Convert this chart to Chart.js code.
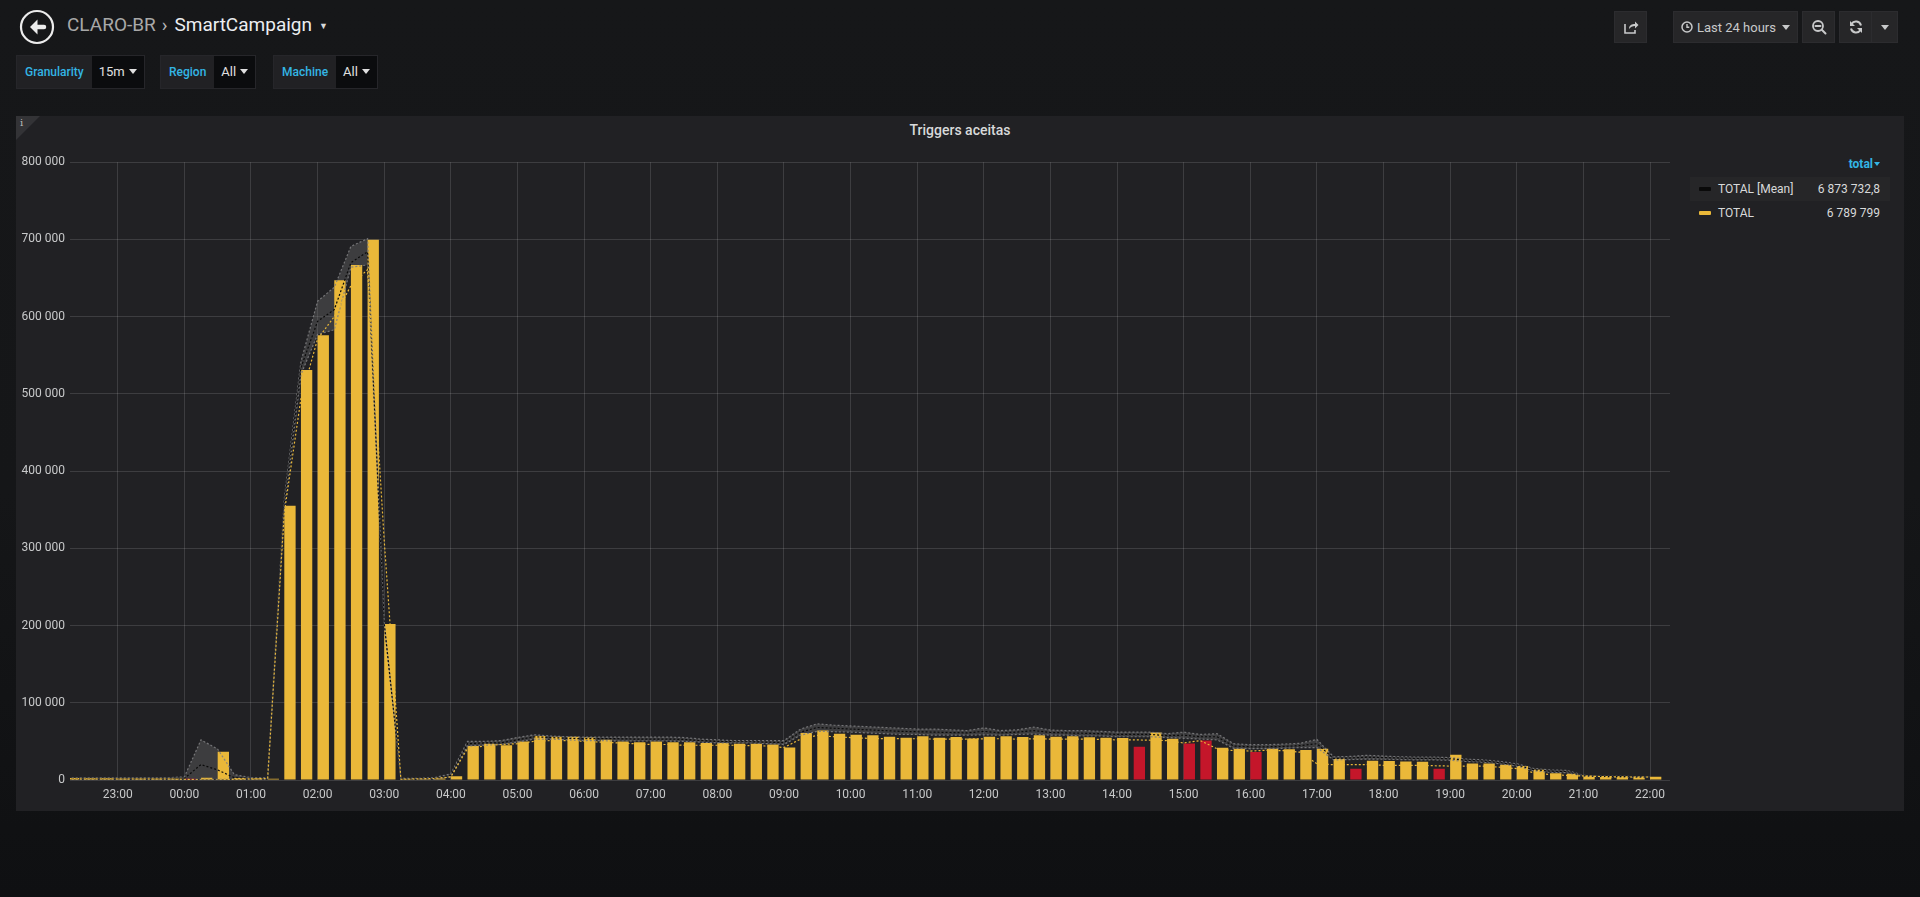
<!DOCTYPE html>
<html>
<head>
<meta charset="utf-8">
<script src="https://cdn.jsdelivr.net/npm/chart.js@4.4.0/dist/chart.umd.min.js"></script>
<style>
  html, body { margin: 0; padding: 0; }
  body {
    width: 1920px; height: 897px; overflow: hidden; position: relative;
    background: linear-gradient(#161719 0%, #151618 55%, #0f1012 100%);
    font-family: Roboto, "Noto Sans", sans-serif; color: #d8d9da;
  }
  .abs { position: absolute; }
  .crumb { left: 67px; top: 13px; font-size: 19px; color: #a8a8a8; white-space: nowrap; }
  .crumb .sep { color: #b8b8b8; margin: 0 7px 0 6px; font-size: 19px; }
  .crumb .dash { color: #eceef1; }
  .crumb .caret { font-size: 9px; color: #d8d9da; margin-left: 7px; vertical-align: 2px; }
  .var { top: 55px; height: 34px; display: flex; font-size: 12px; border: 1px solid #26262a; box-sizing: border-box; }
  .var .lbl { background: #212124; color: #33b5e5; font-weight: 500; padding: 0 8px; line-height: 32px; }
  .var .val { background: #0b0c0e; color: #e0e0e0; padding: 0 7px; line-height: 32px; font-size: 13px; }
  .var .val:after { content: ""; display: inline-block; margin-left: 4px; vertical-align: 2px;
    border-left: 4px solid transparent; border-right: 4px solid transparent; border-top: 5px solid #e0e0e0; }
  .btn { top: 11px; height: 32px; background: #262628; border: 1px solid #2c2c2f; box-sizing: border-box;
    color: #c8c9ca; font-size: 13px; display: flex; align-items: center; justify-content: center; }
  #panel { left: 16px; top: 116px; width: 1888px; height: 695px; background: #212124; }
  #corner { left: 16px; top: 116px; width: 0; height: 0; border-top: 24px solid #333336; border-right: 24px solid transparent; }
  #cornerI { left: 20px; top: 117px; font-size: 10px; color: #bbb; font-family: "DejaVu Serif", serif; }
  #title { left: 16px; width: 1888px; top: 122px; text-align: center; font-size: 14px; font-weight: 500; color: #d8d9da; }
  #wrap { left: 16px; top: 150px; width: 1664px; height: 660px; }
  #legend { left: 1690px; top: 157px; width: 200px; font-size: 12px; }
  #legend .head { text-align: right; color: #33b5e5; font-weight: 700; padding-right: 10px; height: 20px; }
  #legend .head:after { content: ""; display: inline-block; margin-left: 1px; vertical-align: 2px;
    border-left: 3px solid transparent; border-right: 3px solid transparent; border-top: 4px solid #33b5e5; }
  #legend .row { height: 24px; line-height: 24px; display: flex; align-items: center; padding: 0 10px 0 9px; }
  #legend .row.hl { background: #262628; }
  #legend .sw { width: 12px; height: 4px; margin-right: 7px; border-radius: 1px; }
  #legend .name { flex: 1; }
</style>
</head>
<body>

<svg class="abs" style="left:19px;top:9px" width="36" height="36" viewBox="0 0 36 36">
  <circle cx="18" cy="18" r="16" fill="none" stroke="#ececec" stroke-width="2.2"/>
  <path d="M18.5 10.5 L11 18 L18.5 25.5 Z" fill="#ececec"/>
  <path d="M15 18 H25" stroke="#ececec" stroke-width="4.5" stroke-linecap="round"/>
</svg>
<div class="abs crumb">CLARO-BR<span class="sep">&#x203A;</span><span class="dash">SmartCampaign</span><span class="caret">&#9660;</span></div>

<div class="abs var" style="left:16px"><span class="lbl">Granularity</span><span class="val">15m</span></div>
<div class="abs var" style="left:160px"><span class="lbl">Region</span><span class="val">All</span></div>
<div class="abs var" style="left:273px"><span class="lbl">Machine</span><span class="val">All</span></div>

<div class="abs btn" style="left:1614px;width:33px">
  <svg width="16" height="16" viewBox="0 0 16 16"><path d="M2 5 V14 H12 V11" fill="none" stroke="#c8c9ca" stroke-width="1.6"/><path d="M6 10 C6 6 9 5 12 5 V2.5 L15.5 6 L12 9.5 V7 C9.5 7 7.5 8 6 10 Z" fill="#c8c9ca"/></svg>
</div>
<div class="abs btn" style="left:1673px;width:125px">
  <svg width="12" height="12" viewBox="0 0 12 12" style="margin-right:4px"><circle cx="6" cy="6" r="5" fill="none" stroke="#c8c9ca" stroke-width="1.5"/><path d="M6 3 V6.3 H8.3" fill="none" stroke="#c8c9ca" stroke-width="1.4"/></svg>
  Last 24 hours
  <span style="display:inline-block;margin-left:6px;border-left:4px solid transparent;border-right:4px solid transparent;border-top:5px solid #c8c9ca"></span>
</div>
<div class="abs btn" style="left:1802px;width:33px">
  <svg width="16" height="16" viewBox="0 0 16 16"><circle cx="7" cy="7" r="5" fill="none" stroke="#c8c9ca" stroke-width="1.8"/><path d="M4.5 7 H9.5 M10.8 10.8 L14.5 14.5" stroke="#c8c9ca" stroke-width="2" stroke-linecap="round"/></svg>
</div>
<div class="abs btn" style="left:1839px;width:33px;border-right:1px solid #1c1c1e">
  <svg width="16" height="16" viewBox="0 0 16 16"><path d="M13 6.5 A5.2 5.2 0 0 0 3.5 5" fill="none" stroke="#c8c9ca" stroke-width="2"/><path d="M2 2 V7 H7 Z" fill="#c8c9ca"/><path d="M3 9.5 A5.2 5.2 0 0 0 12.5 11" fill="none" stroke="#c8c9ca" stroke-width="2"/><path d="M14 14 V9 H9 Z" fill="#c8c9ca"/></svg>
</div>
<div class="abs btn" style="left:1871px;width:27px">
  <span style="display:inline-block;border-left:4px solid transparent;border-right:4px solid transparent;border-top:5px solid #c8c9ca"></span>
</div>

<div id="panel" class="abs"></div>
<div id="corner" class="abs"></div>
<div id="cornerI" class="abs">i</div>
<div id="title" class="abs">Triggers aceitas</div>
<div id="wrap" class="abs"><canvas id="myChart"></canvas></div>

<div id="legend" class="abs">
  <div class="head">total</div>
  <div class="row hl"><span class="sw" style="background:#0a0a0a"></span><span class="name">TOTAL [Mean]</span><span>6 873 732,8</span></div>
  <div class="row"><span class="sw" style="background:#EAB839"></span><span class="name">TOTAL</span><span>6 789 799</span></div>
</div>

<script>
var times = [
  '22:15', '22:30', '22:45', '23:00', '23:15', '23:30', '23:45',
  '00:00', '00:15', '00:30', '00:45', '01:00', '01:15', '01:30', '01:45',
  '02:00', '02:15', '02:30', '02:45', '03:00', '03:15', '03:30', '03:45',
  '04:00', '04:15', '04:30', '04:45', '05:00', '05:15', '05:30', '05:45',
  '06:00', '06:15', '06:30', '06:45', '07:00', '07:15', '07:30', '07:45',
  '08:00', '08:15', '08:30', '08:45', '09:00', '09:15', '09:30', '09:45',
  '10:00', '10:15', '10:30', '10:45', '11:00', '11:15', '11:30', '11:45',
  '12:00', '12:15', '12:30', '12:45', '13:00', '13:15', '13:30', '13:45',
  '14:00', '14:15', '14:30', '14:45', '15:00', '15:15', '15:30', '15:45',
  '16:00', '16:15', '16:30', '16:45', '17:00', '17:15', '17:30', '17:45',
  '18:00', '18:15', '18:30', '18:45', '19:00', '19:15', '19:30', '19:45',
  '20:00', '20:15', '20:30', '20:45', '21:00', '21:15', '21:30', '21:45',
  '22:00'
];

// TOTAL per 15 min slot
var total = [
  2600, 2200, 2200, 1700, 1500, 1500, 1500,
  1700, 3000, 36500, 2600, 2200, 1700, 355000, 531000,
  576000, 647000, 667000, 699500, 202000, 1200, 1500, 1800,
  5000, 44000, 47000, 45000, 50000, 57000, 56000, 56000,
  55000, 52000, 50000, 49000, 50000, 49000, 49000, 48000,
  48000, 47000, 47000, 46000, 42000, 61000, 64000, 60000,
  58600, 57800, 56000, 54700, 56500, 54700, 55600, 53900,
  56000, 56500, 55600, 57800, 56000, 56500, 55200, 54700,
  54300, 43000, 61600, 53400, 47400, 51300, 41800, 40500,
  36200, 40500, 39700, 38800, 40500, 27600, 14700, 25000,
  24600, 24000, 23700, 14700, 32800, 21500, 21500, 19800,
  18100, 13400, 8600, 8200, 5600, 5200, 4700, 4300,
  4300
];

// slots drawn in red
var redSlots = ['00:00', '14:15', '15:00', '15:15', '16:00', '17:30', '18:45'];

var bandUpper = [
  3000, 3000, 3000, 3000, 3000, 3000, 3000,
  4000, 52000, 40000, 7000, 3000, 3000, 364000, 542000,
  620000, 638000, 691000, 701000, 205000, 2000, 2000, 3000,
  8000, 50000, 50000, 51000, 55000, 58600, 57000, 56000,
  55600, 55600, 55600, 55600, 55600, 55600, 55000, 53000,
  52000, 51000, 51000, 51000, 51000, 66000, 72800, 71000,
  70000, 69000, 68000, 67000, 66000, 66000, 65000, 64000,
  67500, 64000, 65000, 68500, 64700, 64000, 64000, 63000,
  62000, 62000, 62000, 60000, 62000, 59000, 60000, 47000,
  45700, 45700, 46500, 47500, 52600, 30000, 30500, 32000,
  31000, 30000, 29700, 29700, 29000, 27000, 26000, 24000,
  21000, 15000, 13000, 12500, 6000, 5000, 4700, 4500,
  4000
];

var bandLower = [
  1000, 1000, 1000, 1000, 1000, 1000, 1000,
  500, 1000, 1000, 1000, 1000, 1000, 350000, 525000,
  577000, 583000, 664000, 667000, 200000, 1000, 1000, 1000,
  4000, 44000, 45000, 46000, 49000, 53000, 53000, 52000,
  51000, 51000, 50500, 50500, 50500, 50500, 50000, 49000,
  48000, 48000, 48000, 47000, 46000, 58000, 63000, 62500,
  62000, 61000, 60000, 59000, 59000, 58000, 58000, 58000,
  58500, 58000, 59000, 59500, 58000, 58000, 57000, 57000,
  56000, 56000, 56000, 55000, 54000, 53000, 52000, 41000,
  40500, 40500, 41000, 42000, 42000, 26000, 26500, 27000,
  27000, 26500, 26000, 26000, 25500, 24000, 23000, 21000,
  18000, 12000, 10000, 9500, 5000, 4300, 4000, 3800,
  3500
];

var totalMean = [
  2000, 2000, 2000, 2000, 2000, 2000, 2000,
  2000, 20000, 13000, 3000, 2000, 2000, 357000, 534000,
  594000, 609000, 670000, 684000, 203000, 1500, 1500, 2000,
  6000, 47000, 48000, 48000, 52000, 56000, 55000, 54000,
  53500, 53500, 53500, 53000, 53000, 53000, 52500, 51000,
  50000, 49500, 49500, 49000, 48500, 62000, 68000, 67000,
  66000, 65000, 64000, 63000, 62500, 62000, 61500, 61000,
  63000, 61000, 62000, 64000, 61500, 61000, 60500, 60000,
  59000, 59000, 59000, 57500, 58000, 56000, 56000, 44000,
  43000, 43000, 43500, 44500, 47000, 28000, 28500, 29500,
  29000, 28500, 28000, 28000, 27500, 25500, 24500, 22500,
  19500, 13500, 11500, 11000, 5500, 4700, 4300, 4200,
  3800
];

var totalLine = [
  1500, 1500, 1500, 1500, 1500, 1500, 1500,
  1000, 0, 0, 1000, 1500, 2000, 346000, 494000,
  571000, 600000, 640000, 661000, 310000, 1000, 1500, 2000,
  4000, 41000, 44000, 46000, 47000, 50000, 51000, 51000,
  50000, 49000, 48000, 47000, 46000, 46000, 45000, 45000,
  45000, 45000, 44500, 44000, 42000, 53000, 57800, 56000,
  55000, 54000, 53500, 53500, 53400, 53000, 53000, 53000,
  53400, 53400, 53000, 53400, 53000, 53000, 53000, 52500,
  52000, 52000, 51500, 51000, 48000, 51000, 40500, 38000,
  37500, 38500, 38000, 36000, 21000, 19800, 20000, 19800,
  19000, 19000, 19000, 18500, 18000, 18000, 18000, 16500,
  14700, 9500, 6900, 6000, 5200, 4500, 3900, 3900,
  3900
];

var hourTicks = ['23:00', '00:00', '01:00', '02:00', '03:00', '04:00', '05:00', '06:00',
  '07:00', '08:00', '09:00', '10:00', '11:00', '12:00', '13:00', '14:00', '15:00',
  '16:00', '17:00', '18:00', '19:00', '20:00', '21:00', '22:00'];

var yellow = '#EAB839';
var red = '#C4162A';

// minutes after 22:00 of the first day
function toMin(s) {
  var p = s.split(':');
  var m = (+p[0]) * 60 + (+p[1]) - 1320;
  if (m <= 0) m += 1440;
  return m;
}

var barPct = 0.68;
var barShift = 15 * barPct / 2; // grafana bars start at the timestamp

function pts(arr, shift) {
  return arr.map(function (v, i) { return { x: toMin(times[i]) + shift, y: v }; });
}

function spaced(v) {
  return String(v).replace(/\B(?=(\d{3})+(?!\d))/g, ' ');
}

var lineBase = {
  type: 'line', pointRadius: 0, borderWidth: 1.2, tension: 0, borderDash: [2, 2], fill: false
};

var ctx = document.getElementById('myChart').getContext('2d');
var myChart = new Chart(ctx, {
  type: 'bar',
  data: {
    datasets: [{
      label: 'TOTAL',
      data: pts(total, barShift),
      backgroundColor: times.map(function (t) { return redSlots.indexOf(t) >= 0 ? red : yellow; }),
      barPercentage: barPct,
      categoryPercentage: 1,
      order: 5
    }, Object.assign({}, lineBase, {
      label: 'upper',
      data: pts(bandUpper, 0),
      borderColor: 'rgba(125,125,128,0.9)',
      backgroundColor: 'rgba(110,110,112,0.36)',
      fill: '+1',
      order: 3
    }), Object.assign({}, lineBase, {
      label: 'lower',
      data: pts(bandLower, 0),
      borderColor: 'rgba(125,125,128,0.9)',
      order: 2
    }), Object.assign({}, lineBase, {
      label: 'TOTAL [Mean]',
      data: pts(totalMean, 0),
      borderColor: '#0a0a0a',
      order: 1
    }), Object.assign({}, lineBase, {
      label: 'TOTAL line',
      data: pts(totalLine, 0),
      borderColor: yellow,
      order: 0
    })]
  },
  options: {
    responsive: true,
    maintainAspectRatio: false,
    animation: false,
    events: [],
    layout: { padding: { top: 12, right: 10, left: 0, bottom: 0 } },
    plugins: {
      legend: { display: false },
      tooltip: { enabled: false },
      filler: { drawTime: 'beforeDatasetsDraw' }
    },
    scales: {
      x: {
        type: 'linear',
        min: 17,
        max: 1458,
        offset: false,
        border: { display: false },
        grid: { color: 'rgba(255,255,255,0.13)', drawTicks: false, offset: false },
        ticks: {
          color: '#c8c9ca', padding: 8, maxRotation: 0, autoSkip: false,
          font: { family: 'Roboto', size: 12 },
          callback: function (v) {
            var i = hourTicks.map(toMin).indexOf(v);
            return i >= 0 ? hourTicks[i] : '';
          }
        },
        afterBuildTicks: function (s) {
          s.ticks = hourTicks.map(function (h) { return { value: toMin(h) }; });
        },
        afterFit: function (s) { s.height = 30; }
      },
      y: {
        min: 0,
        max: 800000,
        border: { display: false },
        grid: { color: 'rgba(255,255,255,0.13)', drawTicks: false },
        ticks: {
          stepSize: 100000, color: '#c8c9ca', padding: 5,
          font: { family: 'Roboto', size: 12 },
          callback: function (v) { return spaced(v); }
        },
        afterFit: function (s) { s.width = 54; }
      }
    }
  }
});
</script>
</body>
</html>
